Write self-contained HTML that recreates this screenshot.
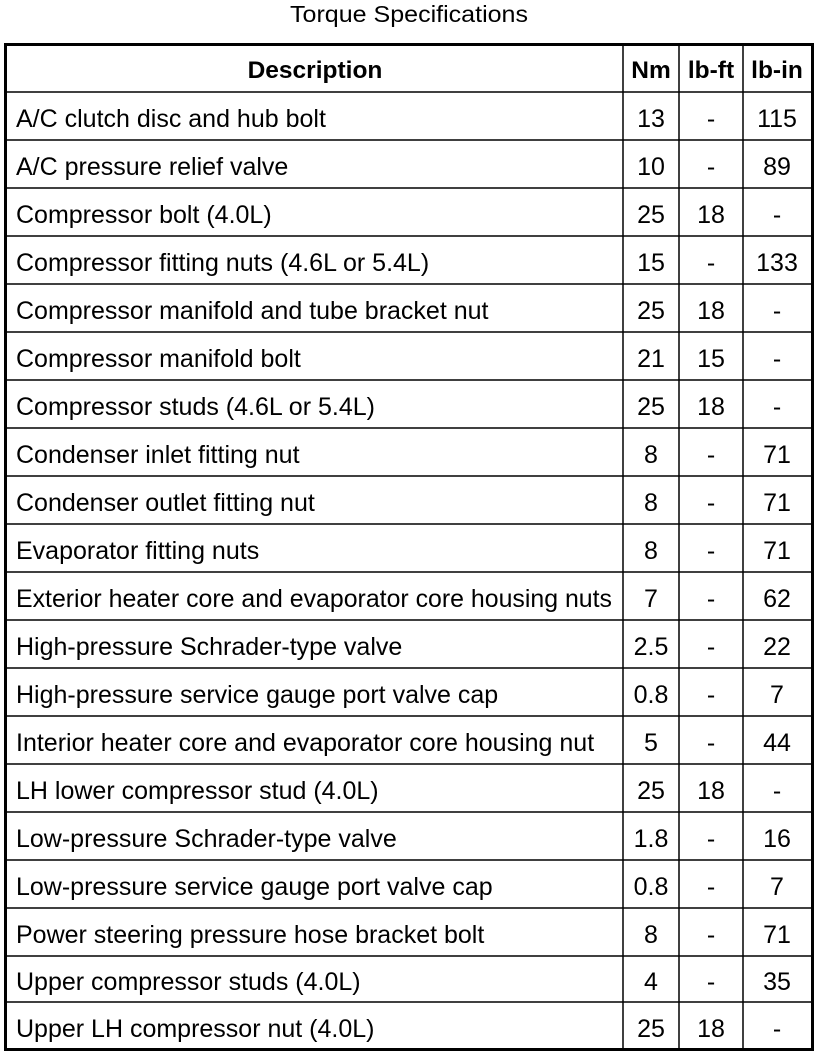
<!DOCTYPE html>
<html><head><meta charset="utf-8"><style>
html,body{margin:0;padding:0;background:#fff;}
svg{display:block;}
text{font-family:"Liberation Sans",Arial,sans-serif;fill:#000;}
</style></head><body>
<svg width="832" height="1058" viewBox="0 0 832 1058" xmlns="http://www.w3.org/2000/svg">
<text x="409" y="22" font-size="23" text-anchor="middle" textLength="238" lengthAdjust="spacingAndGlyphs">Torque Specifications</text>
<g stroke="#000" stroke-width="1.5">
<line x1="623" y1="45" x2="623" y2="1049"/>
<line x1="679" y1="45" x2="679" y2="1049"/>
<line x1="743" y1="45" x2="743" y2="1049"/>
<line x1="6" y1="92" x2="812" y2="92"/>
<line x1="6" y1="140" x2="812" y2="140"/>
<line x1="6" y1="188" x2="812" y2="188"/>
<line x1="6" y1="236" x2="812" y2="236"/>
<line x1="6" y1="284" x2="812" y2="284"/>
<line x1="6" y1="332" x2="812" y2="332"/>
<line x1="6" y1="380" x2="812" y2="380"/>
<line x1="6" y1="428" x2="812" y2="428"/>
<line x1="6" y1="476" x2="812" y2="476"/>
<line x1="6" y1="524" x2="812" y2="524"/>
<line x1="6" y1="572" x2="812" y2="572"/>
<line x1="6" y1="620" x2="812" y2="620"/>
<line x1="6" y1="668" x2="812" y2="668"/>
<line x1="6" y1="716" x2="812" y2="716"/>
<line x1="6" y1="764" x2="812" y2="764"/>
<line x1="6" y1="812" x2="812" y2="812"/>
<line x1="6" y1="860" x2="812" y2="860"/>
<line x1="6" y1="908" x2="812" y2="908"/>
<line x1="6" y1="956" x2="812" y2="956"/>
<line x1="6" y1="1002" x2="812" y2="1002"/>
</g>
<rect x="5.5" y="44.5" width="807" height="1005" fill="none" stroke="#000" stroke-width="3"/>
<g font-size="24.5" font-weight="bold" text-anchor="middle">
<text x="315" y="78">Description</text>
<text x="651" y="78">Nm</text>
<text x="711" y="78">lb-ft</text>
<text x="777" y="78">lb-in</text>
</g>
<g font-size="25">
<text x="16" y="127">A/C clutch disc and hub bolt</text>
<text x="16" y="175">A/C pressure relief valve</text>
<text x="16" y="223">Compressor bolt (4.0L)</text>
<text x="16" y="271">Compressor fitting nuts (4.6L or 5.4L)</text>
<text x="16" y="319">Compressor manifold and tube bracket nut</text>
<text x="16" y="367">Compressor manifold bolt</text>
<text x="16" y="415">Compressor studs (4.6L or 5.4L)</text>
<text x="16" y="463">Condenser inlet fitting nut</text>
<text x="16" y="511">Condenser outlet fitting nut</text>
<text x="16" y="559">Evaporator fitting nuts</text>
<text x="16" y="607" textLength="596" lengthAdjust="spacingAndGlyphs">Exterior heater core and evaporator core housing nuts</text>
<text x="16" y="655">High-pressure Schrader-type valve</text>
<text x="16" y="703">High-pressure service gauge port valve cap</text>
<text x="16" y="751">Interior heater core and evaporator core housing nut</text>
<text x="16" y="799">LH lower compressor stud (4.0L)</text>
<text x="16" y="847">Low-pressure Schrader-type valve</text>
<text x="16" y="895">Low-pressure service gauge port valve cap</text>
<text x="16" y="943">Power steering pressure hose bracket bolt</text>
<text x="16" y="990">Upper compressor studs (4.0L)</text>
<text x="16" y="1037">Upper LH compressor nut (4.0L)</text>
</g>
<g font-size="25" text-anchor="middle">
<text x="651" y="127">13</text><text x="711" y="127">-</text><text x="777" y="127">115</text>
<text x="651" y="175">10</text><text x="711" y="175">-</text><text x="777" y="175">89</text>
<text x="651" y="223">25</text><text x="711" y="223">18</text><text x="777" y="223">-</text>
<text x="651" y="271">15</text><text x="711" y="271">-</text><text x="777" y="271">133</text>
<text x="651" y="319">25</text><text x="711" y="319">18</text><text x="777" y="319">-</text>
<text x="651" y="367">21</text><text x="711" y="367">15</text><text x="777" y="367">-</text>
<text x="651" y="415">25</text><text x="711" y="415">18</text><text x="777" y="415">-</text>
<text x="651" y="463">8</text><text x="711" y="463">-</text><text x="777" y="463">71</text>
<text x="651" y="511">8</text><text x="711" y="511">-</text><text x="777" y="511">71</text>
<text x="651" y="559">8</text><text x="711" y="559">-</text><text x="777" y="559">71</text>
<text x="651" y="607">7</text><text x="711" y="607">-</text><text x="777" y="607">62</text>
<text x="651" y="655">2.5</text><text x="711" y="655">-</text><text x="777" y="655">22</text>
<text x="651" y="703">0.8</text><text x="711" y="703">-</text><text x="777" y="703">7</text>
<text x="651" y="751">5</text><text x="711" y="751">-</text><text x="777" y="751">44</text>
<text x="651" y="799">25</text><text x="711" y="799">18</text><text x="777" y="799">-</text>
<text x="651" y="847">1.8</text><text x="711" y="847">-</text><text x="777" y="847">16</text>
<text x="651" y="895">0.8</text><text x="711" y="895">-</text><text x="777" y="895">7</text>
<text x="651" y="943">8</text><text x="711" y="943">-</text><text x="777" y="943">71</text>
<text x="651" y="990">4</text><text x="711" y="990">-</text><text x="777" y="990">35</text>
<text x="651" y="1037">25</text><text x="711" y="1037">18</text><text x="777" y="1037">-</text>
</g>
</svg>
</body></html>
